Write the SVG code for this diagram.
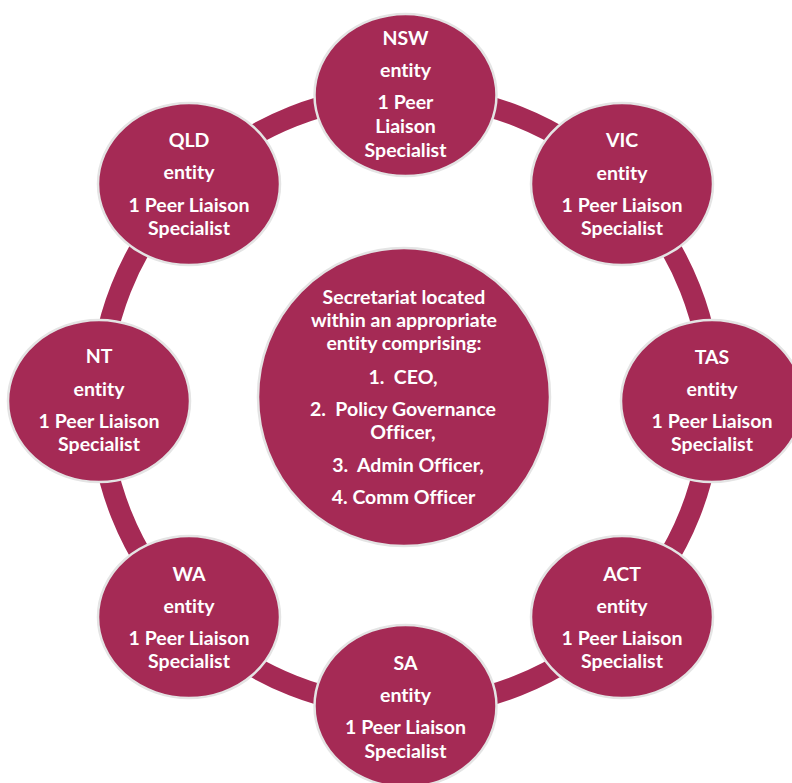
<svg xmlns="http://www.w3.org/2000/svg" width="792" height="783" viewBox="0 0 792 783">
<style>
.node{fill:#A52A55;stroke:#E4E4E4;stroke-width:2.5}
.ring{fill:none;stroke:#A52A55;stroke-width:21}
text{font-family:Lato,"Open Sans","Liberation Sans",sans-serif;font-weight:bold;font-size:19.5px;fill:#FFFFFF;text-anchor:middle;font-variant-ligatures:none}
</style>
<rect width="792" height="783" fill="#FFFFFF"/>
<g id="connectors">
<circle class="ring" cx="405.5" cy="401" r="306"/>
</g>
<g id="nsw">
<ellipse class="node" cx="405.5" cy="95" rx="91" ry="81"/>
<text x="405.5" y="45">NSW</text>
<text x="405.5" y="77">entity</text>
<text x="405.5" y="109">1 Peer</text>
<text x="405.5" y="133">Liaison</text>
<text x="405.5" y="157">Specialist</text>
</g>
<g id="vic">
<ellipse class="node" cx="622" cy="184" rx="91" ry="81"/>
<text x="622" y="147">VIC</text>
<text x="622" y="180">entity</text>
<text x="622" y="212">1 Peer Liaison</text>
<text x="622" y="235">Specialist</text>
</g>
<g id="tas">
<ellipse class="node" cx="712" cy="401" rx="91" ry="81"/>
<text x="712" y="364">TAS</text>
<text x="712" y="396">entity</text>
<text x="712" y="428">1 Peer Liaison</text>
<text x="712" y="451">Specialist</text>
</g>
<g id="act">
<ellipse class="node" cx="622" cy="617" rx="91" ry="81"/>
<text x="622" y="581">ACT</text>
<text x="622" y="613">entity</text>
<text x="622" y="645">1 Peer Liaison</text>
<text x="622" y="668">Specialist</text>
</g>
<g id="sa">
<ellipse class="node" cx="405.5" cy="706" rx="91" ry="81"/>
<text x="405.5" y="670">SA</text>
<text x="405.5" y="702">entity</text>
<text x="405.5" y="734">1 Peer Liaison</text>
<text x="405.5" y="758">Specialist</text>
</g>
<g id="wa">
<ellipse class="node" cx="189" cy="617" rx="91" ry="81"/>
<text x="189" y="581">WA</text>
<text x="189" y="613">entity</text>
<text x="189" y="645">1 Peer Liaison</text>
<text x="189" y="668">Specialist</text>
</g>
<g id="nt">
<ellipse class="node" cx="99" cy="401" rx="91" ry="81"/>
<text x="99" y="363">NT</text>
<text x="99" y="396">entity</text>
<text x="99" y="428">1 Peer Liaison</text>
<text x="99" y="451">Specialist</text>
</g>
<g id="qld">
<ellipse class="node" cx="189" cy="184" rx="91" ry="81"/>
<text x="189" y="147">QLD</text>
<text x="189" y="179">entity</text>
<text x="189" y="212">1 Peer Liaison</text>
<text x="189" y="235">Specialist</text>
</g>
<g id="secretariat">
<ellipse class="node" cx="404" cy="397" rx="146" ry="149"/>
<text x="404" y="304">Secretariat located</text>
<text x="404" y="327">within an appropriate</text>
<text x="404" y="350">entity comprising:</text>
<text x="403" y="384" xml:space="preserve">1.  CEO,</text>
<text x="403" y="416" xml:space="preserve">2.  Policy Governance</text>
<text x="403" y="439">Officer,</text>
<text x="408" y="472" xml:space="preserve">3.  Admin Officer,</text>
<text x="403.5" y="504">4. Comm Officer</text>
</g>
</svg>
